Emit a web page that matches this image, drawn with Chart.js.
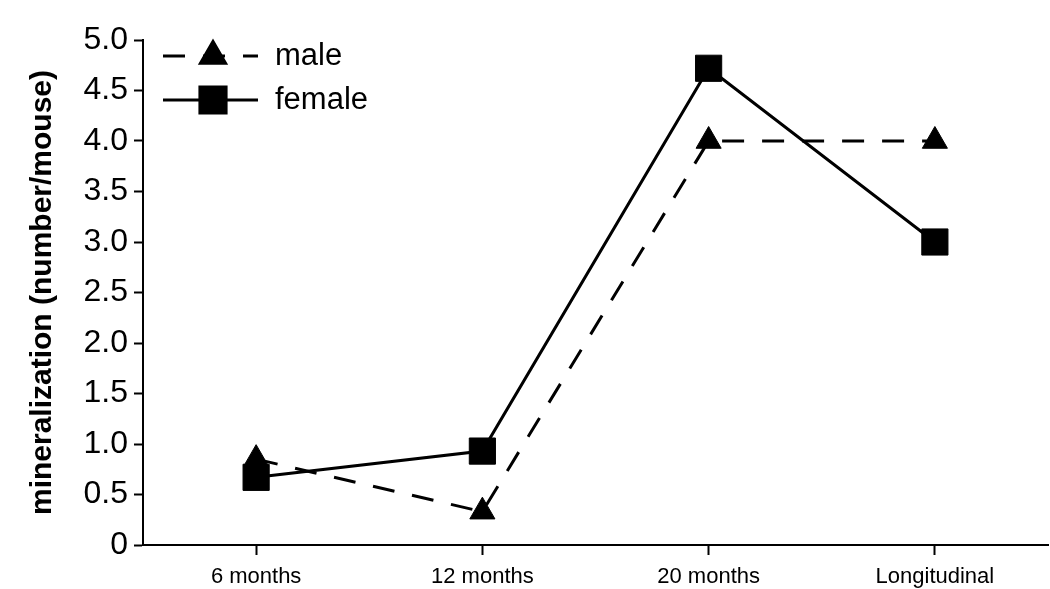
<!DOCTYPE html>
<html>
<head>
<meta charset="utf-8">
<script src="https://cdn.jsdelivr.net/npm/chart.js@4"></script>
<style>
  html, body { margin: 0; padding: 0; background: #fff; overflow: hidden; }
  #wrap { width: 1050px; height: 589px; position: relative; }
  canvas { display: block; }
</style>
</head>
<body>
<div id="wrap"><canvas id="mineralChart"></canvas></div>
<script>
// categories and values
const ages = ['6 months', '12 months', '20 months', 'Longitudinal'];
const maleValues = [0.85, 0.33, 4.0, 4.0];
const femaleValues = [0.67, 0.93, 4.72, 3.0];
const yTicks = [0, 0.5, 1.0, 1.5, 2.0, 2.5, 3.0, 3.5, 4.0, 4.5, 5.0];

const FONT = "'Liberation Sans', Arial, Helvetica, sans-serif";

// legend drawn inside the plot, line + marker + label like the original
const insideLegend = {
    id: 'insideLegend',
    afterDraw(chart) {
        const { ctx, chartArea } = chart;
        const x0 = chartArea.left + 20;
        const rows = [
            { ds: chart.data.datasets[0], y: chartArea.top + 16 },
            { ds: chart.data.datasets[1], y: chartArea.top + 60 }
        ];
        ctx.save();
        rows.forEach(r => {
            ctx.strokeStyle = '#000';
            ctx.lineWidth = 3;
            ctx.setLineDash(r.ds.borderDash || []);
            ctx.beginPath();
            ctx.moveTo(x0, r.y);
            ctx.lineTo(x0 + 95, r.y);
            ctx.stroke();
            ctx.setLineDash([]);
            ctx.fillStyle = '#000';
            Chart.helpers.drawPoint(ctx, {
                pointStyle: r.ds.pointStyle,
                radius: r.ds.pointRadius,
                borderWidth: 1
            }, x0 + 50, r.y);
            ctx.font = '31px ' + FONT;
            ctx.textBaseline = 'middle';
            ctx.fillText(r.ds.label, x0 + 112, r.y);
        });
        ctx.restore();
    }
};

new Chart(document.getElementById('mineralChart'), {
    type: 'line',
    data: {
        labels: ages,
        datasets: [
            {
                label: 'male',
                data: maleValues,
                borderColor: '#000',
                backgroundColor: '#000',
                borderWidth: 3,
                borderDash: [22, 18],
                pointStyle: 'triangle',
                pointRadius: 14.5,
                pointBorderWidth: 1,
                pointBackgroundColor: '#000',
                tension: 0
            },
            {
                label: 'female',
                data: femaleValues,
                borderColor: '#000',
                backgroundColor: '#000',
                borderWidth: 3,
                pointStyle: 'rect',
                pointRadius: 18.5,
                pointBorderWidth: 1,
                pointBackgroundColor: '#000',
                tension: 0
            }
        ]
    },
    options: {
        responsive: true,
        maintainAspectRatio: false,
        animation: false,
        layout: {
            autoPadding: false,
            padding: { top: 40, right: 2, left: 25, bottom: 0 }
        },
        plugins: {
            legend: { display: false },
            tooltip: { enabled: false }
        },
        scales: {
            x: {
                offset: true,
                afterFit: axis => {
                    axis.height = 44;
                    axis.paddingRight = 0;
                    axis.paddingLeft = 0;
                },
                grid: {
                    offset: false,
                    drawOnChartArea: false,
                    drawTicks: true,
                    tickLength: 10,
                    tickWidth: 2,
                    tickColor: '#000'
                },
                border: { display: true, color: '#000', width: 2 },
                ticks: {
                    color: '#000',
                    padding: 9,
                    font: { family: FONT, size: 22 }
                }
            },
            y: {
                min: 0,
                max: 5,
                afterBuildTicks: axis => {
                    axis.ticks = yTicks.map(v => ({ value: v }));
                },
                afterFit: axis => { axis.width = 118; },
                grid: {
                    drawOnChartArea: false,
                    drawTicks: true,
                    tickLength: 9,
                    tickWidth: 2,
                    tickColor: '#000'
                },
                border: { display: true, color: '#000', width: 2 },
                ticks: {
                    color: '#000',
                    padding: 6,
                    font: { family: FONT, size: 32 },
                    callback: v => v === 0 ? '0' : v.toFixed(1)
                },
                title: {
                    display: true,
                    text: 'mineralization (number/mouse)',
                    color: '#000',
                    padding: { top: 0, bottom: 0 },
                    font: { family: FONT, size: 30, weight: 'bold' }
                }
            }
        }
    },
    plugins: [insideLegend]
});
</script>
</body>
</html>
